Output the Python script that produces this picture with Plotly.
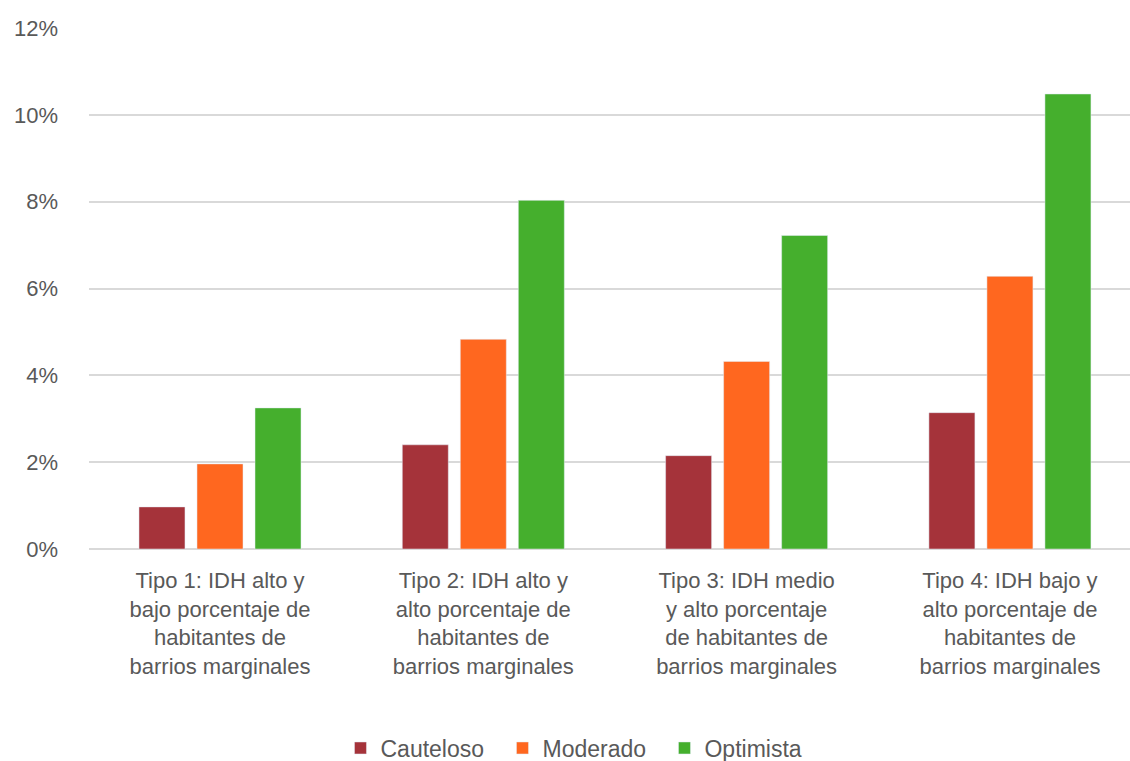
import plotly.graph_objects as go

categories = [
    "Tipo 1: IDH alto y<br>bajo porcentaje de<br>habitantes de<br>barrios marginales",
    "Tipo 2: IDH alto y<br>alto porcentaje de<br>habitantes de<br>barrios marginales",
    "Tipo 3: IDH medio<br>y alto porcentaje<br>de habitantes de<br>barrios marginales",
    "Tipo 4: IDH bajo y<br>alto porcentaje de<br>habitantes de<br>barrios marginales",
]
cauteloso = [0.97, 2.40, 2.15, 3.14]
moderado = [1.96, 4.83, 4.32, 6.28]
optimista = [3.25, 8.03, 7.22, 10.48]
y_ticks = [0, 2, 4, 6, 8, 10, 12]

x_pos = list(range(len(categories)))
font_family = "Liberation Sans"
text_color = "#595959"

fig = go.Figure()
fig.add_trace(go.Bar(x=x_pos, y=cauteloso, name="Cauteloso", marker_color="#A5333A"))
fig.add_trace(go.Bar(x=x_pos, y=moderado, name="Moderado", marker_color="#FF671F"))
fig.add_trace(go.Bar(x=x_pos, y=optimista, name="Optimista", marker_color="#45AF2D"))

fig.update_layout(
    width=1130, height=761,
    margin=dict(l=89, r=0, t=28, b=212, autoexpand=False),
    paper_bgcolor="white", plot_bgcolor="white",
    barmode="group", bargap=0.339, bargroupgap=0.207,
    font=dict(family=font_family, size=22, color=text_color),
    legend=dict(orientation="h", x=0.475, xanchor="center", y=-0.382, yanchor="middle",
                font=dict(family=font_family, size=23, color=text_color),
                itemwidth=30, traceorder="normal",
                entrywidth=117, entrywidthmode="pixels"),
    showlegend=True,
)
fig.update_xaxes(
    tickmode="array", tickvals=x_pos, ticktext=categories,
    range=[-0.4975, 3.456], showgrid=False, zeroline=False,
    showline=False, ticks="", tickfont=dict(family=font_family, size=22, color=text_color),
    ticklabelstandoff=16, automargin=False,
)
fig.update_yaxes(
    range=[0, 12], tickmode="array", tickvals=y_ticks,
    ticktext=[f"{v}%" for v in y_ticks],
    showgrid=True, gridcolor="#D9D9D9", gridwidth=1.5,
    zeroline=True, zerolinecolor="#D9D9D9", zerolinewidth=1.5,
    showline=False, ticks="", tickfont=dict(family=font_family, size=22, color=text_color),
    ticklabelstandoff=30, automargin=False,
)
fig.write_html("out.html")
